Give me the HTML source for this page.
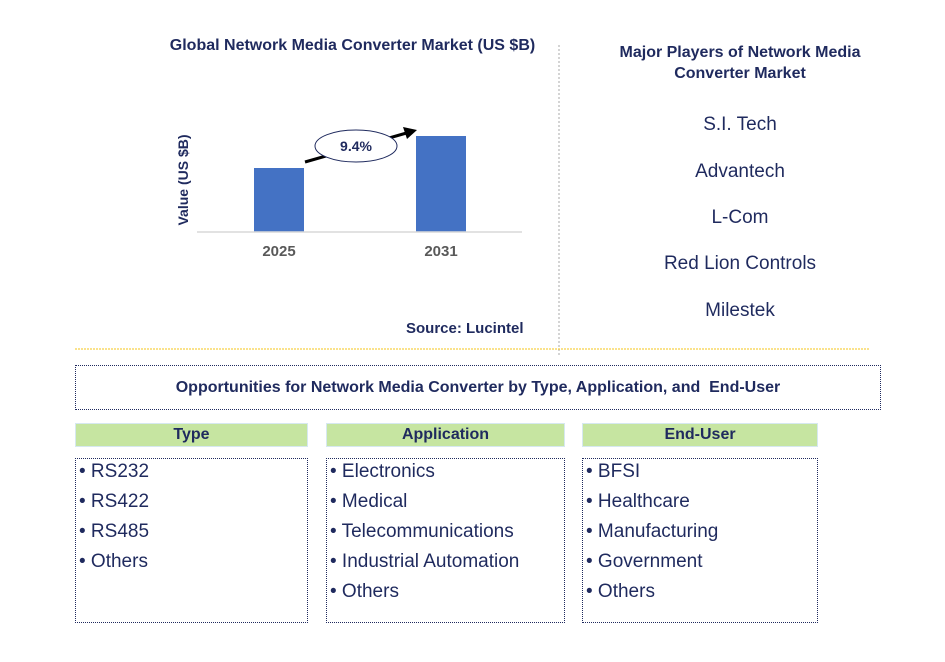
<!DOCTYPE html>
<html><head><meta charset="utf-8"><style>
body{margin:0;width:945px;height:662px;background:#fff;font-family:"Liberation Sans",sans-serif;position:relative;overflow:hidden}
.a{position:absolute}
.t{color:#1f2a5e;font-weight:bold}
.hdr{position:absolute;background:#c6e5a1;border:1px solid #d6e8f0;color:#1f2a5e;font-weight:bold;font-size:16px;text-align:center;line-height:22px;height:22px}
.box{position:absolute;border:1px dotted #1f2a5e;font-size:19px;color:#1f2a5e}
.box div{height:30px;line-height:26px;padding-left:3px}
.pl{position:absolute;width:300px;text-align:center;font-size:19px;color:#1f2a5e}
</style></head><body>
<div class="a t" style="left:110px;top:37px;width:485px;text-align:center;font-size:16px">Global Network Media Converter Market (US $B)</div>
<svg class="a" style="left:0;top:0" width="945" height="662">
<g id="bars"></g>
<line x1="197" y1="232" x2="522" y2="232" stroke="#d9d9d9" stroke-width="1.5"/>
<text x="188" y="180" transform="rotate(-90 188 180)" text-anchor="middle" font-size="14" font-weight="bold" fill="#1f2a5e">Value (US $B)</text>
<line x1="305" y1="162" x2="410" y2="132" stroke="#000" stroke-width="3"/>
<polygon points="417,130 403,127 407,139" fill="#000"/>
<ellipse cx="356" cy="146" rx="41" ry="16" fill="#fff" stroke="#1f2a5e"/>
<text x="356" y="151" text-anchor="middle" font-size="14" font-weight="bold" fill="#1f2a5e">9.4%</text>
<line x1="559" y1="45" x2="559" y2="355" stroke="#aaa" stroke-dasharray="2,2"/>
<line x1="75" y1="349" x2="870" y2="349" stroke="#f5c518" stroke-dasharray="2,1"/>
</svg>
<div class="a t" style="left:406px;top:320px;font-size:15px">Source: Lucintel</div>
<div class="a t" style="left:585px;top:42px;width:310px;text-align:center;font-size:16px;line-height:21px">Major Players of Network Media Converter Market</div>
<div class="pl" style="left:590px;top:114px">S.I. Tech</div>
<div class="pl" style="left:590px;top:161px">Advantech</div>
<div class="pl" style="left:590px;top:207px">L-Com</div>
<div class="pl" style="left:590px;top:253px">Red Lion Controls</div>
<div class="pl" style="left:590px;top:300px">Milestek</div>
<div class="a t" style="left:75px;top:365px;width:804px;height:43px;border:1px dotted #1f2a5e;text-align:center;line-height:43px;font-size:16px">Opportunities for Network Media Converter by Type, Application, and &nbsp;End-User</div>
<div class="hdr" style="left:75px;top:423px;width:231px">Type</div>
<div class="hdr" style="left:326px;top:423px;width:237px">Application</div>
<div class="hdr" style="left:582px;top:423px;width:234px">End-User</div>
<div class="box" style="left:75px;top:458px;width:231px;height:163px"><div>• RS232</div><div>• RS422</div><div>• RS485</div><div>• Others</div></div>
<div class="box" style="left:326px;top:458px;width:237px;height:163px"><div>• Electronics</div><div>• Medical</div><div>• Telecommunications</div><div>• Industrial Automation</div><div>• Others</div></div>
<div class="box" style="left:582px;top:458px;width:234px;height:163px"><div>• BFSI</div><div>• Healthcare</div><div>• Manufacturing</div><div>• Government</div><div>• Others</div></div>
<script>
const categories=["2025","2031"];
const values=[1.0,1.5];
const barW=50,baseY=232,pxPerUnit=64;
function xScale(i){return 279+i*162;}
function yScale(v){return baseY-v*pxPerUnit;}
const g=document.getElementById('bars');
const NS='http://www.w3.org/2000/svg';
categories.forEach((c,i)=>{
 const cx=xScale(i);
 const r=document.createElementNS(NS,'rect');
 r.setAttribute('x',cx-barW/2);r.setAttribute('y',yScale(values[i]));
 r.setAttribute('width',barW);r.setAttribute('height',baseY-yScale(values[i]));
 r.setAttribute('fill','#4472c4');
 
 
 g.appendChild(r);
 const t=document.createElementNS(NS,'text');
 t.setAttribute('x',cx);t.setAttribute('y',256);t.setAttribute('text-anchor','middle');
 t.setAttribute('font-size','15');t.setAttribute('font-weight','bold');t.setAttribute('fill','#595959');
 t.textContent=c;
 
 
 g.appendChild(t);
});
</script>
</body></html>
